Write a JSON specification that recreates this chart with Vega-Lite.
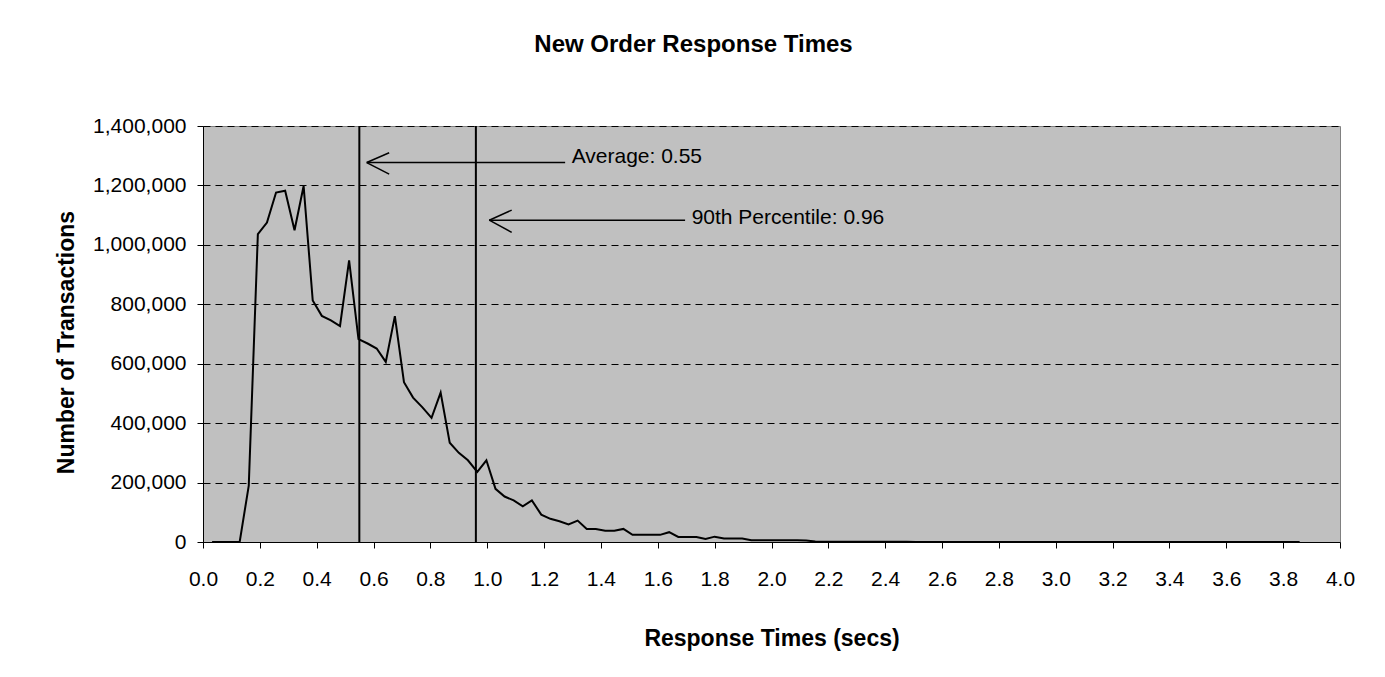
{
  "$schema": "https://vega.github.io/schema/vega-lite/v6.json",
  "autosize": "none",
  "width": 1137,
  "height": 416,
  "padding": {"left": 203, "top": 126, "right": 45, "bottom": 135},
  "background": "white",
  "title": {"text": "New Order Response Times", "font": "Liberation Sans", "fontSize": 24, "fontWeight": "bold", "color": "black", "anchor": "middle", "dx": -78, "offset": 58},
  "config": {
    "view": {"fill": "#C0C0C0", "stroke": "#808080", "strokeWidth": 1},
    "axis": {"domainColor": "black", "tickColor": "black", "labelColor": "black", "titleColor": "black", "labelFont": "Liberation Sans", "titleFont": "Liberation Sans", "labelFontSize": 21, "titleFontSize": 23, "titleFontWeight": "bold", "tickSize": 6, "gridColor": "black", "gridDash": [7, 5], "gridOpacity": 1, "gridWidth": 1}
  },
  "datasets": {
    "series": [
      {"t": 0.032, "n": 0}, {"t": 0.064, "n": 0}, {"t": 0.096, "n": 0}, {"t": 0.129, "n": 0},
      {"t": 0.161, "n": 190000}, {"t": 0.193, "n": 1036000}, {"t": 0.225, "n": 1075000}, {"t": 0.257, "n": 1176000},
      {"t": 0.289, "n": 1182000}, {"t": 0.322, "n": 1049000}, {"t": 0.354, "n": 1198000}, {"t": 0.386, "n": 813000},
      {"t": 0.418, "n": 761000}, {"t": 0.45, "n": 746000}, {"t": 0.482, "n": 727000}, {"t": 0.514, "n": 948000},
      {"t": 0.547, "n": 683000}, {"t": 0.579, "n": 668000}, {"t": 0.611, "n": 651000}, {"t": 0.643, "n": 606000},
      {"t": 0.675, "n": 760000}, {"t": 0.707, "n": 538000}, {"t": 0.739, "n": 486000}, {"t": 0.772, "n": 453000},
      {"t": 0.804, "n": 418000}, {"t": 0.836, "n": 503000}, {"t": 0.868, "n": 334000}, {"t": 0.9, "n": 300000},
      {"t": 0.932, "n": 275000}, {"t": 0.965, "n": 236000}, {"t": 0.997, "n": 275000}, {"t": 1.029, "n": 179000},
      {"t": 1.061, "n": 153000}, {"t": 1.093, "n": 140000}, {"t": 1.125, "n": 120000}, {"t": 1.157, "n": 140000},
      {"t": 1.19, "n": 92000}, {"t": 1.222, "n": 78000}, {"t": 1.254, "n": 70000}, {"t": 1.286, "n": 59000},
      {"t": 1.318, "n": 72000}, {"t": 1.35, "n": 44000}, {"t": 1.382, "n": 44000}, {"t": 1.415, "n": 38000},
      {"t": 1.447, "n": 38000}, {"t": 1.479, "n": 44000}, {"t": 1.511, "n": 24000}, {"t": 1.543, "n": 24000},
      {"t": 1.575, "n": 24000}, {"t": 1.608, "n": 24000}, {"t": 1.64, "n": 33000}, {"t": 1.672, "n": 17000},
      {"t": 1.704, "n": 17000}, {"t": 1.736, "n": 17000}, {"t": 1.768, "n": 10000}, {"t": 1.8, "n": 18000},
      {"t": 1.833, "n": 12000}, {"t": 1.865, "n": 12000}, {"t": 1.897, "n": 12000}, {"t": 1.929, "n": 6000},
      {"t": 1.961, "n": 6000}, {"t": 1.993, "n": 6000}, {"t": 2.025, "n": 6000}, {"t": 2.058, "n": 6000},
      {"t": 2.09, "n": 6000}, {"t": 2.122, "n": 5000}, {"t": 2.154, "n": 1500}, {"t": 2.186, "n": 1200},
      {"t": 2.218, "n": 1000}, {"t": 2.251, "n": 1000}, {"t": 2.283, "n": 800}, {"t": 2.315, "n": 800},
      {"t": 2.347, "n": 700}, {"t": 2.379, "n": 600}, {"t": 2.411, "n": 600}, {"t": 2.443, "n": 500},
      {"t": 2.476, "n": 500}, {"t": 2.508, "n": 400}, {"t": 2.54, "n": 400}, {"t": 2.572, "n": 400},
      {"t": 2.604, "n": 300}, {"t": 2.636, "n": 300}, {"t": 2.668, "n": 300}, {"t": 2.701, "n": 300},
      {"t": 2.733, "n": 200}, {"t": 2.765, "n": 200}, {"t": 2.797, "n": 200}, {"t": 2.829, "n": 200},
      {"t": 2.861, "n": 200}, {"t": 2.894, "n": 200}, {"t": 2.926, "n": 100}, {"t": 2.958, "n": 100},
      {"t": 2.99, "n": 100}, {"t": 3.022, "n": 100}, {"t": 3.054, "n": 100}, {"t": 3.086, "n": 100},
      {"t": 3.119, "n": 100}, {"t": 3.151, "n": 100}, {"t": 3.183, "n": 100}, {"t": 3.215, "n": 100},
      {"t": 3.247, "n": 100}, {"t": 3.279, "n": 100}, {"t": 3.311, "n": 100}, {"t": 3.344, "n": 100},
      {"t": 3.376, "n": 100}, {"t": 3.408, "n": 100}, {"t": 3.44, "n": 100}, {"t": 3.472, "n": 100},
      {"t": 3.504, "n": 100}, {"t": 3.537, "n": 100}, {"t": 3.569, "n": 100}, {"t": 3.601, "n": 100},
      {"t": 3.633, "n": 100}, {"t": 3.665, "n": 100}, {"t": 3.697, "n": 100}, {"t": 3.729, "n": 100},
      {"t": 3.762, "n": 100}, {"t": 3.794, "n": 100}, {"t": 3.826, "n": 100}, {"t": 3.858, "n": 100}
    ],
    "markers": [{"t": 0.55}, {"t": 0.96}],
    "arrows": [
      {"t": 0.576, "n": 1277000, "t2": 1.274, "n2": 1277000},
      {"t": 0.576, "n": 1277000, "t2": 0.655, "n2": 1310000},
      {"t": 0.576, "n": 1277000, "t2": 0.655, "n2": 1238000},
      {"t": 1.007, "n": 1083000, "t2": 1.696, "n2": 1083000},
      {"t": 1.007, "n": 1083000, "t2": 1.086, "n2": 1117000},
      {"t": 1.007, "n": 1083000, "t2": 1.086, "n2": 1042000}
    ],
    "labels": [
      {"t": 1.297, "n": 1277000, "label": "Average: 0.55"},
      {"t": 1.719, "n": 1070000, "label": "90th Percentile: 0.96"}
    ]
  },
  "layer": [
    {
      "data": {"name": "series"},
      "mark": {"type": "line", "color": "black", "strokeWidth": 2},
      "encoding": {
        "x": {"field": "t", "type": "quantitative", "scale": {"domain": [0, 4], "nice": false, "zero": false},
              "axis": {"title": "Response Times (secs)", "values": [0, 0.2, 0.4, 0.6, 0.8, 1.0, 1.2, 1.4, 1.6, 1.8, 2.0, 2.2, 2.4, 2.6, 2.8, 3.0, 3.2, 3.4, 3.6, 3.8, 4.0], "format": ".1f", "grid": false, "labelPadding": 20, "titlePadding": 38, "labelFlush": false, "labelOverlap": false}},
        "y": {"field": "n", "type": "quantitative", "scale": {"domain": [0, 1400000], "nice": false},
              "axis": {"title": "Number of Transactions", "values": [0, 200000, 400000, 600000, 800000, 1000000, 1200000, 1400000], "format": ",d", "grid": true, "labelPadding": 11, "titlePadding": 14, "titleY": 216, "labelFlush": false, "labelOverlap": false}}
      }
    },
    {
      "data": {"name": "markers"},
      "mark": {"type": "rule", "color": "black", "strokeWidth": 2},
      "encoding": {"x": {"field": "t", "type": "quantitative"}}
    },
    {
      "data": {"name": "arrows"},
      "mark": {"type": "rule", "color": "black", "strokeWidth": 1.5},
      "encoding": {
        "x": {"field": "t", "type": "quantitative"},
        "y": {"field": "n", "type": "quantitative"},
        "x2": {"field": "t2"},
        "y2": {"field": "n2"}
      }
    },
    {
      "data": {"name": "labels"},
      "mark": {"type": "text", "align": "left", "baseline": "alphabetic", "font": "Liberation Sans", "fontSize": 21, "color": "black"},
      "encoding": {
        "x": {"field": "t", "type": "quantitative"},
        "y": {"field": "n", "type": "quantitative"},
        "text": {"field": "label"}
      }
    }
  ]
}
